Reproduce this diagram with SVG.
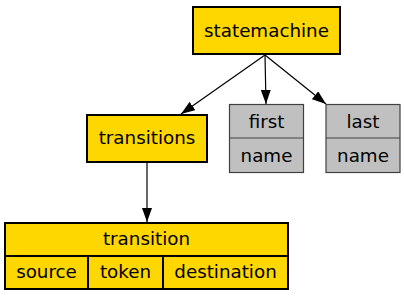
<svg xmlns="http://www.w3.org/2000/svg" width="404" height="296" viewBox="0 0 404 296">
<style>
text{font-family:"DejaVu Sans",sans-serif;font-size:18.3px;text-anchor:middle;fill:#000}
.y{fill:#ffd700;stroke:#000;stroke-width:2}
.g{fill:#c0c0c0;stroke:#404040;stroke-width:1.2}
.e{stroke:#000;stroke-width:1.2;fill:none}
</style>
<defs>
<marker id="ah" viewBox="0 0 14 10" refX="14" refY="5" markerWidth="14" markerHeight="10" markerUnits="userSpaceOnUse" orient="auto">
<path d="M0,0 L14,5 L0,10 Z" fill="#000"/>
</marker>
</defs>
<g id="connectors">
<path class="e" d="M265,55 L181,114" marker-end="url(#ah)"/>
<path class="e" d="M265,55 L266,104" marker-end="url(#ah)"/>
<path class="e" d="M265,55 L326,104" marker-end="url(#ah)"/>
<path class="e" d="M147,163 L147,222" marker-end="url(#ah)"/>
</g>
<g id="statemachine">
<rect class="y" x="193" y="7" width="147" height="47"/>
<text x="266.5" y="36.5">statemachine</text>
</g>
<g id="first">
<rect class="g" x="229.5" y="104.5" width="74" height="68"/>
<line class="g" x1="229.5" y1="138" x2="303.5" y2="138"/>
<text x="266.5" y="127.5">first</text>
<text x="266.5" y="161.5">name</text>
</g>
<g id="last">
<rect class="g" x="326" y="104.5" width="74" height="68"/>
<line class="g" x1="326" y1="138" x2="400" y2="138"/>
<text x="363" y="127.5">last</text>
<text x="363" y="161.5">name</text>
</g>
<g id="transitions">
<rect class="y" x="87" y="115" width="120" height="47"/>
<text x="147" y="143.5">transitions</text>
</g>
<g id="transition">
<rect class="y" x="5" y="223" width="283" height="66"/>
<line class="y" x1="5" y1="256" x2="288" y2="256"/>
<line class="y" x1="88" y1="256" x2="88" y2="289"/>
<line class="y" x1="163" y1="256" x2="163" y2="289"/>
<text x="146.5" y="244.5">transition</text>
<text x="46.5" y="277.5">source</text>
<text x="125.5" y="277.5">token</text>
<text x="225.5" y="277.5">destination</text>
</g>
</svg>
